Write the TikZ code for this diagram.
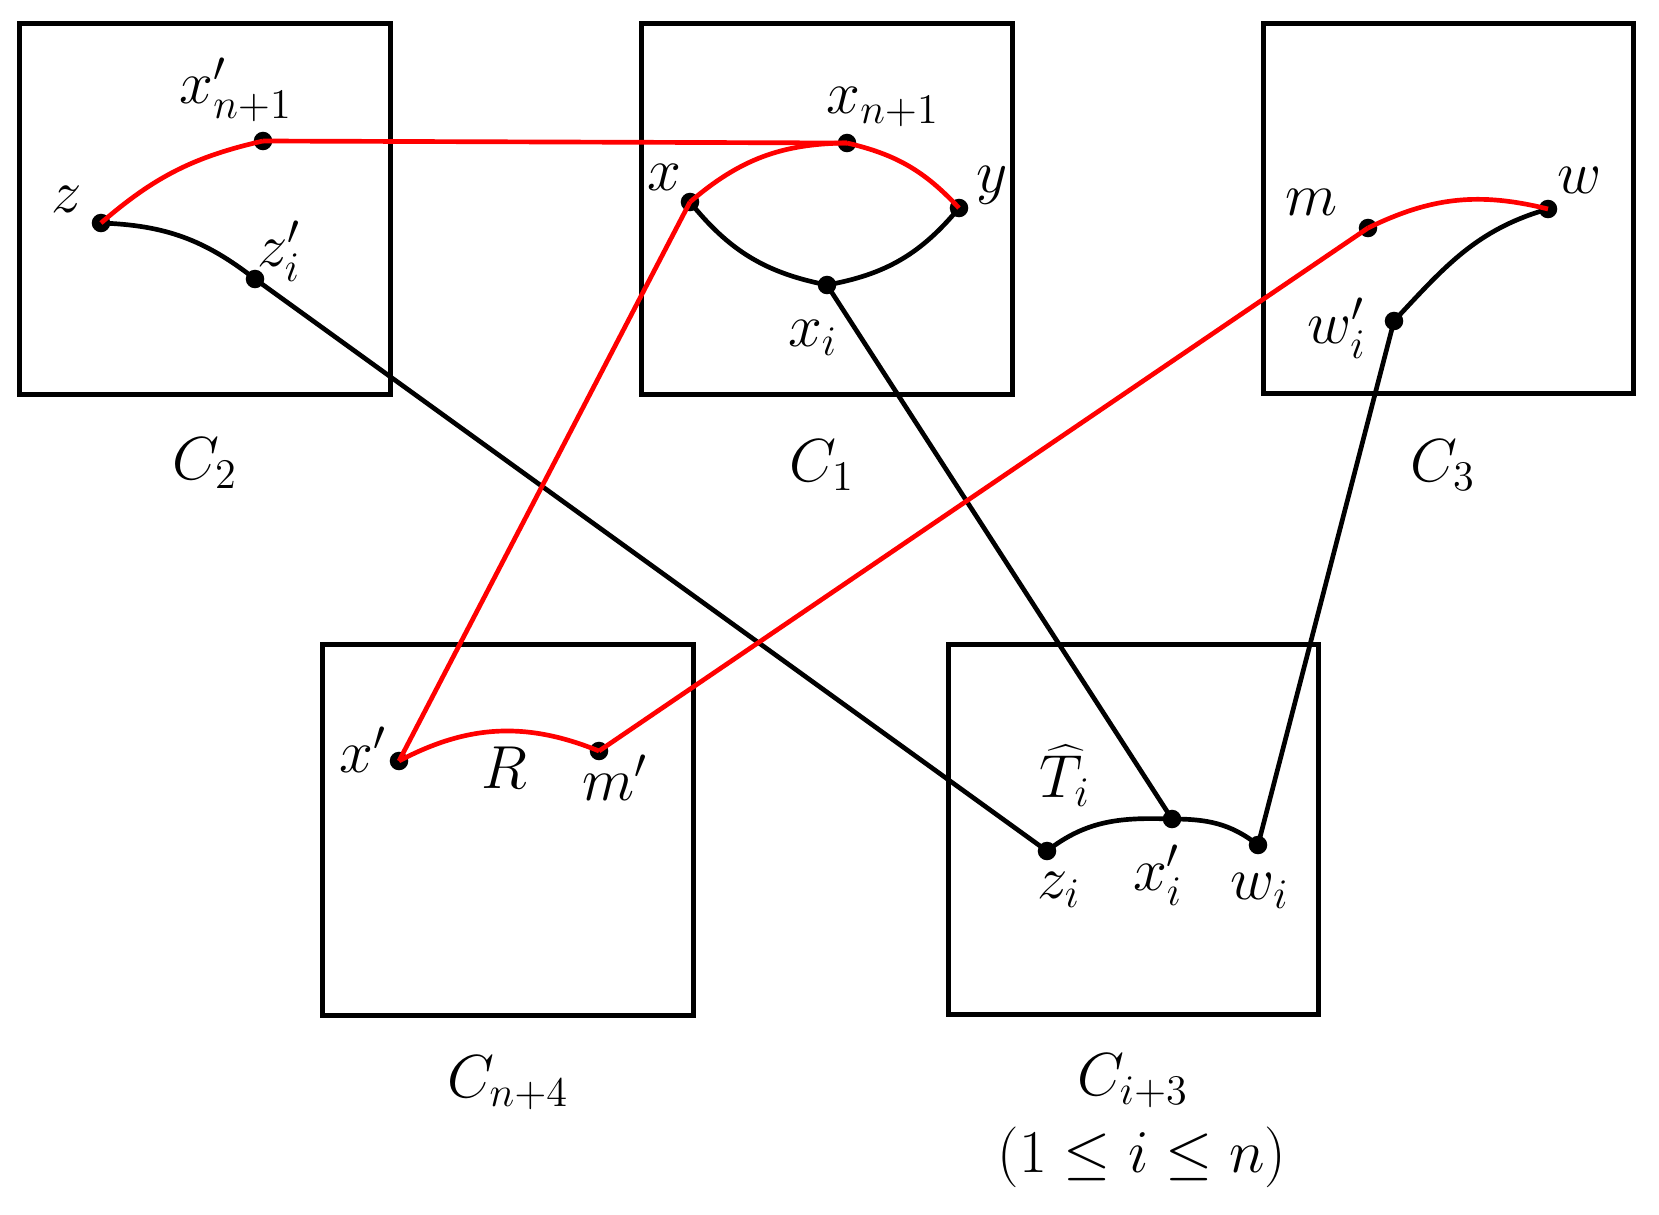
\documentclass[tikz,border=0pt]{standalone}
\begin{document}
\begin{tikzpicture}[x=0.01cm,y=-0.01cm,
  box/.style={draw,line width=1.4pt,minimum width=3.7cm,minimum height=3.7cm,inner sep=0pt},
  pt/.style={circle,fill=black,inner sep=0pt,minimum size=0.185cm},
  lab/.style={inner sep=0pt,font=\fontsize{17.28}{20}\selectfont},
  edge/.style={line width=1.33pt,black},
  redge/.style={line width=1.33pt,red}]
\useasboundingbox (0,0) rectangle (1659,1215);
% boxes
\node[box] (C2) at (205,209) {};
\node[box] (C1) at (827,209) {};
\node[box] (C3) at (1448.5,208.5) {};
\node[box] (Cn4) at (508,830) {};
\node[box] (Ci3) at (1133.5,829.5) {};
% box labels
\node[lab] (lC2) at (205,463) {$C_2$};
\node[lab] (lC1) at (822,465) {$C_1$};
\node[lab] (lC3) at (1443,465) {$C_3$};
\node[lab] (lCn4) at (508,1083) {$C_{n+4}$};
\node[lab] (lCi3) at (1133,1081) {$C_{i+3}$};
\node[lab] (lrange) at (1142,1157) {$(1\leq i\leq n)$};
% points
\node[pt] (z) at (101,223) {};
\node[pt] (xnp) at (263,141) {};
\node[pt] (zpi) at (255,279) {};
\node[pt] (xn1) at (847,143) {};
\node[pt] (x) at (690,202) {};
\node[pt] (y) at (959,208) {};
\node[pt] (xi) at (827,285) {};
\node[pt] (m) at (1368,228) {};
\node[pt] (w) at (1548,209) {};
\node[pt] (wpi) at (1394,321) {};
\node[pt] (xp) at (399,761) {};
\node[pt] (mp) at (599,751) {};
\node[pt] (zi) at (1047,851) {};
\node[pt] (xpi) at (1172,819) {};
\node[pt] (wi) at (1258,845) {};
% point labels
\node[lab] (lz) at (67,199) {$z$};
\node[lab] (lxnp) at (236,90) {$x'_{n+1}$};
\node[lab] (lzpi) at (279,251) {$z'_i$};
\node[lab] (lxn1) at (883,107) {$x_{n+1}$};
\node[lab] (lx) at (664,177) {$x$};
\node[lab] (ly) at (992,185) {$y$};
\node[lab] (lxi) at (813,338) {$x_i$};
\node[lab] (lm) at (1312,202) {$m$};
\node[lab] (lw) at (1580,180) {$w$};
\node[lab] (lwpi) at (1337,328) {$w'_i$};
\node[lab] (lxp) at (363,750) {$x'$};
\node[lab] (lR) at (504,768) {$R$};
\node[lab] (lmp) at (615,778) {$m'$};
\node[lab] (lT) at (1065,776) {$\widehat{T}_i$};
\node[lab] (lzi) at (1059,890) {$z_i$};
\node[lab] (lxpi) at (1158,875) {$x'_i$};
\node[lab] (lwi) at (1260,891) {$w_i$};
% black connectors
\draw[edge] (z.center) to[bend left=18] (zpi.center);
\draw[edge] (x.center) to[bend right=20] (xi.center);
\draw[edge] (xi.center) to[bend right=20] (y.center);
\draw[edge] (wpi.center) to[out=47,in=196] (w.center);
\draw[edge] (zi.center) to[out=38,in=178] (xpi.center);
\draw[edge] (xpi.center) to[out=0,in=142] (wi.center);
\draw[edge] (zpi.center) -- (zi.center);
\draw[edge] (xi.center) -- (xpi.center);
\draw[edge] (wpi.center) -- (wi.center);
% red connectors
\draw[redge] (z.center) to[bend left=14] (xnp.center);
\draw[redge] (xnp.center) -- (xn1.center);
\draw[redge] (x.center) to[bend left=20] (xn1.center);
\draw[redge] (xn1.center) to[bend left=17] (y.center);
\draw[redge] (m.center) to[bend left=20] (w.center);
\draw[redge] (xp.center) to[bend left=25] (mp.center);
\draw[redge] (x.center) -- (xp.center);
\draw[redge] (m.center) -- (mp.center);
\end{tikzpicture}
\end{document}
